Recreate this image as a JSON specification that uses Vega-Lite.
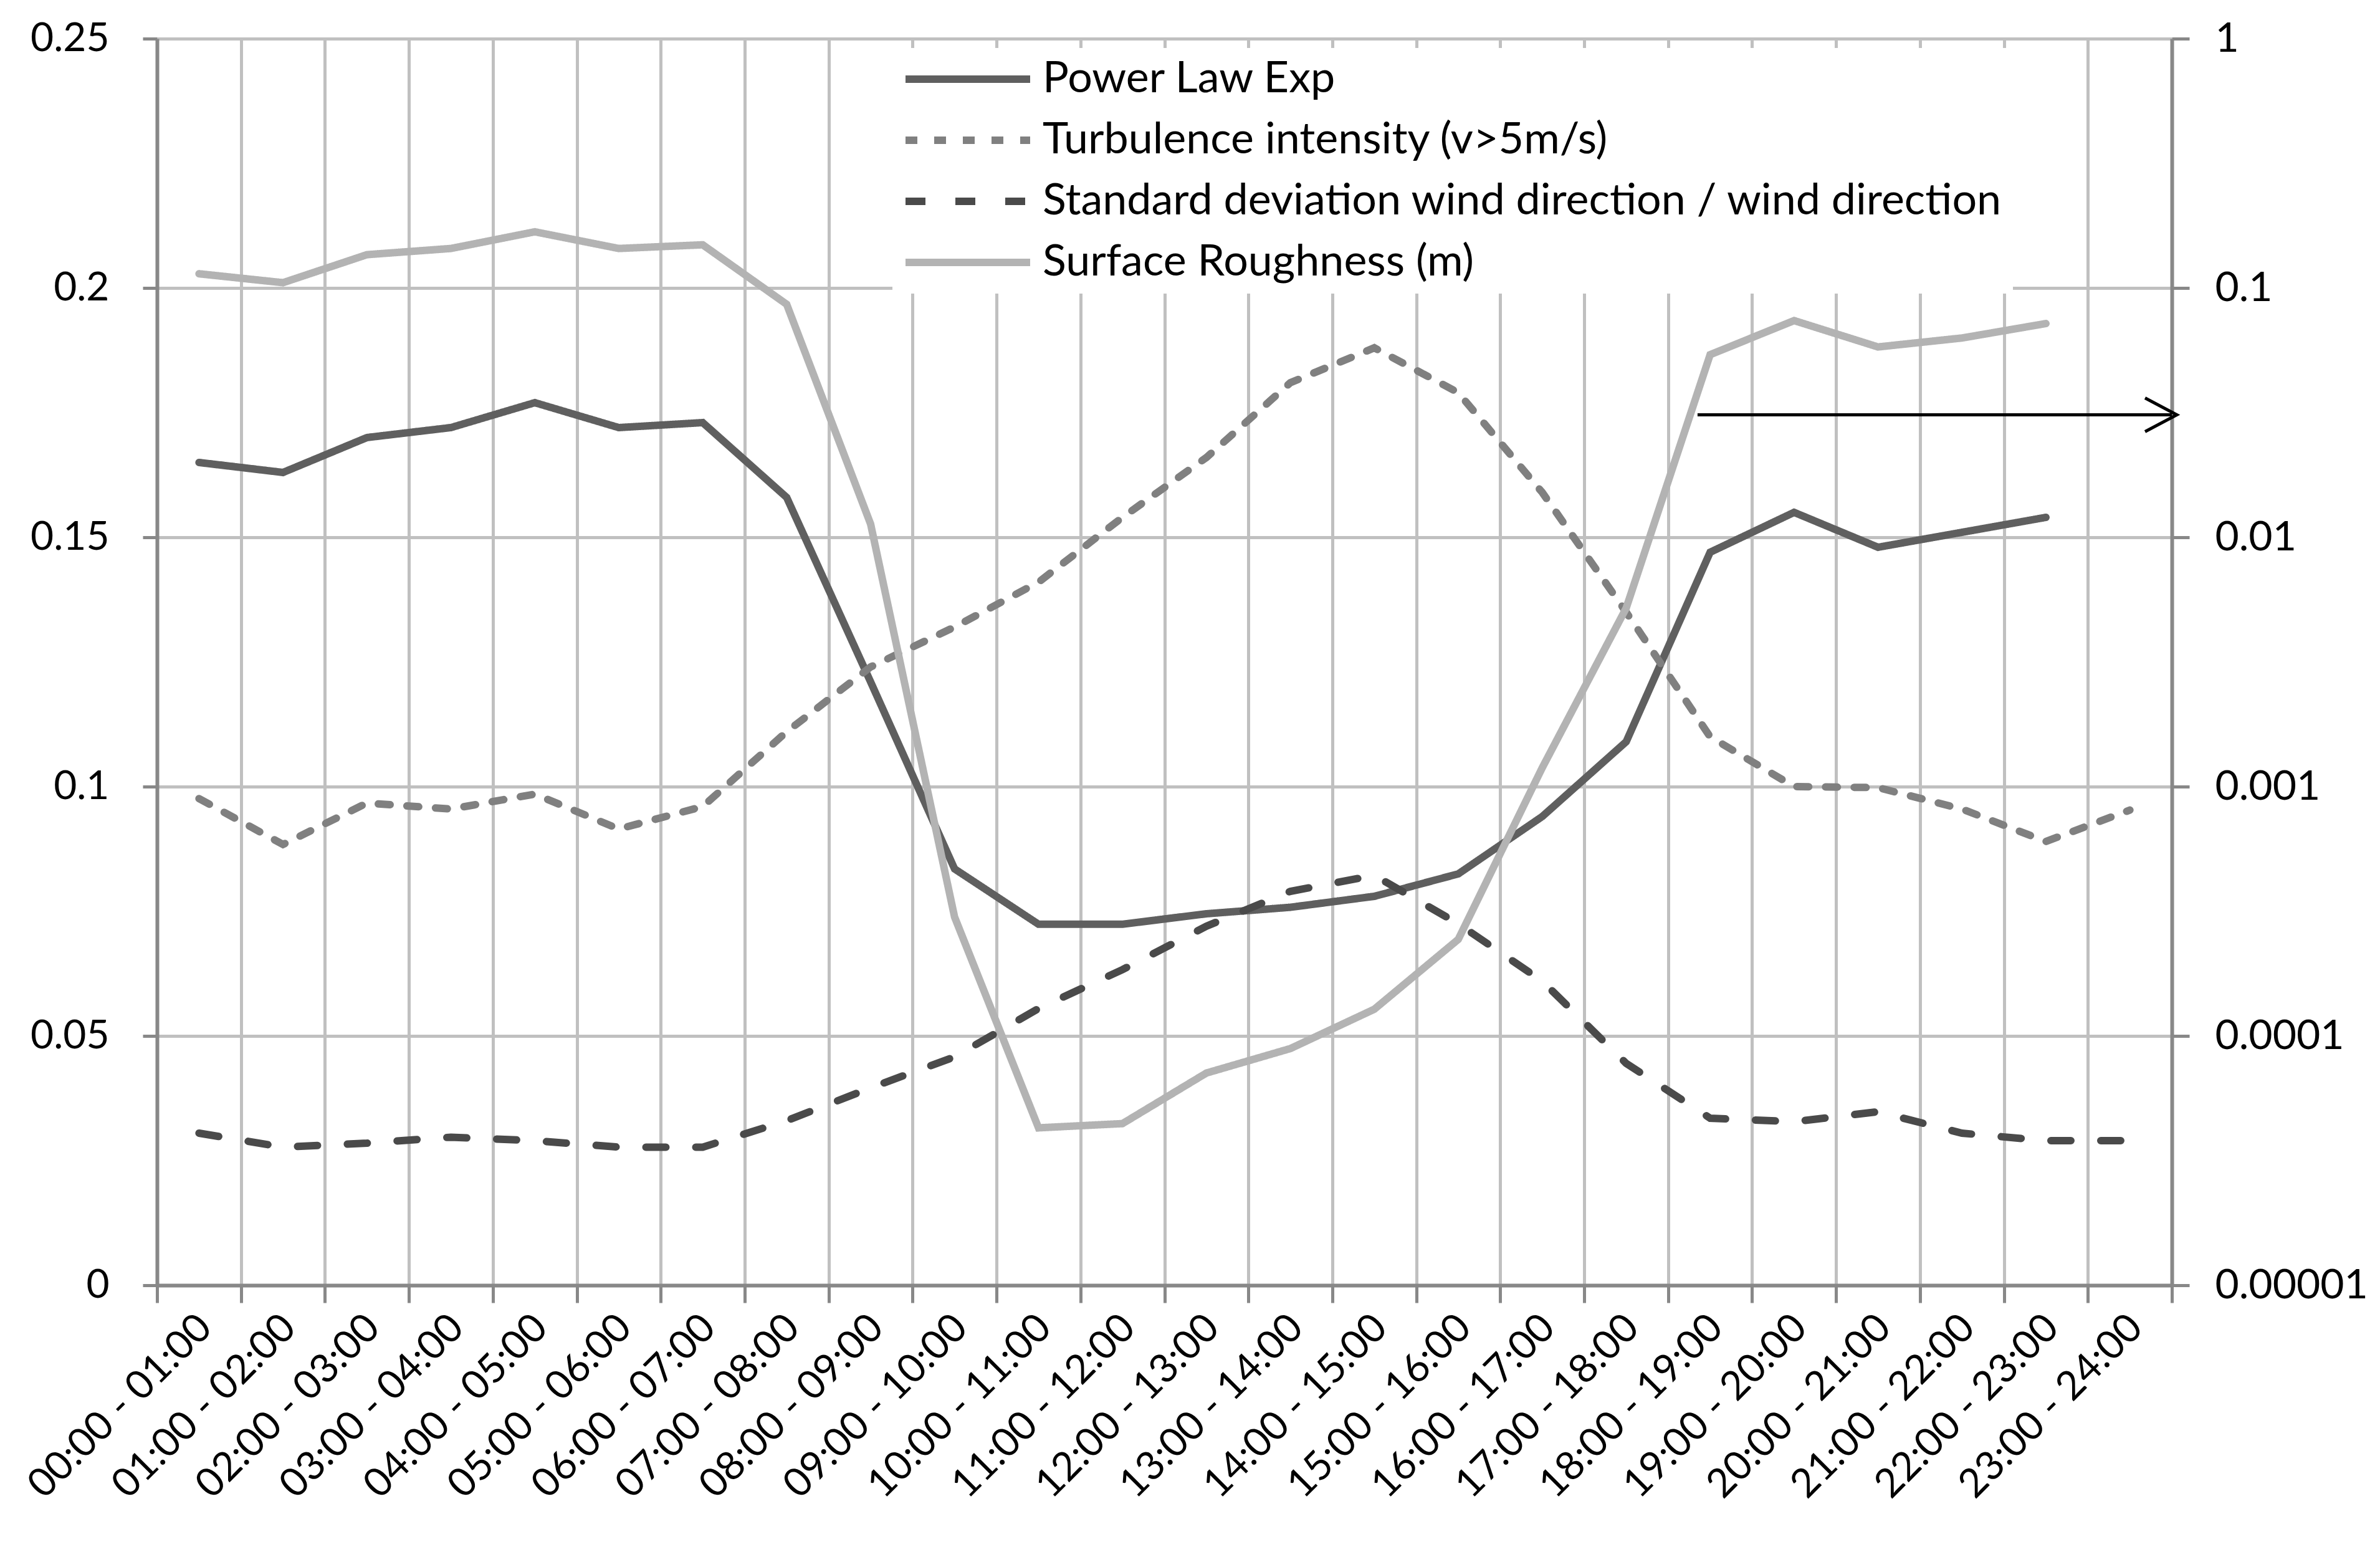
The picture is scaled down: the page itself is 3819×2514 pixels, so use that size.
{
  "$schema": "https://vega.github.io/schema/vega-lite/v6.json",
  "width": 3233,
  "height": 2000,
  "autosize": {"type": "none"},
  "padding": {"left": 252, "top": 62, "right": 334, "bottom": 452},
  "background": "white",
  "datasets": {
    "left": [
      {"hour": "00:00 - 01:00", "series": "Power Law Exp", "value": 0.165},
      {"hour": "01:00 - 02:00", "series": "Power Law Exp", "value": 0.163},
      {"hour": "02:00 - 03:00", "series": "Power Law Exp", "value": 0.170},
      {"hour": "03:00 - 04:00", "series": "Power Law Exp", "value": 0.172},
      {"hour": "04:00 - 05:00", "series": "Power Law Exp", "value": 0.177},
      {"hour": "05:00 - 06:00", "series": "Power Law Exp", "value": 0.172},
      {"hour": "06:00 - 07:00", "series": "Power Law Exp", "value": 0.173},
      {"hour": "07:00 - 08:00", "series": "Power Law Exp", "value": 0.158},
      {"hour": "08:00 - 09:00", "series": "Power Law Exp", "value": 0.121},
      {"hour": "09:00 - 10:00", "series": "Power Law Exp", "value": 0.0835},
      {"hour": "10:00 - 11:00", "series": "Power Law Exp", "value": 0.0724},
      {"hour": "11:00 - 12:00", "series": "Power Law Exp", "value": 0.0724},
      {"hour": "12:00 - 13:00", "series": "Power Law Exp", "value": 0.0745},
      {"hour": "13:00 - 14:00", "series": "Power Law Exp", "value": 0.0758},
      {"hour": "14:00 - 15:00", "series": "Power Law Exp", "value": 0.078},
      {"hour": "15:00 - 16:00", "series": "Power Law Exp", "value": 0.0825},
      {"hour": "16:00 - 17:00", "series": "Power Law Exp", "value": 0.094},
      {"hour": "17:00 - 18:00", "series": "Power Law Exp", "value": 0.109},
      {"hour": "18:00 - 19:00", "series": "Power Law Exp", "value": 0.147},
      {"hour": "19:00 - 20:00", "series": "Power Law Exp", "value": 0.155},
      {"hour": "20:00 - 21:00", "series": "Power Law Exp", "value": 0.148},
      {"hour": "21:00 - 22:00", "series": "Power Law Exp", "value": 0.151},
      {"hour": "22:00 - 23:00", "series": "Power Law Exp", "value": 0.154},
      {"hour": "00:00 - 01:00", "series": "Turbulence intensity (v>5m/s)", "value": 0.0976},
      {"hour": "01:00 - 02:00", "series": "Turbulence intensity (v>5m/s)", "value": 0.0884},
      {"hour": "02:00 - 03:00", "series": "Turbulence intensity (v>5m/s)", "value": 0.0967},
      {"hour": "03:00 - 04:00", "series": "Turbulence intensity (v>5m/s)", "value": 0.0955},
      {"hour": "04:00 - 05:00", "series": "Turbulence intensity (v>5m/s)", "value": 0.0985},
      {"hour": "05:00 - 06:00", "series": "Turbulence intensity (v>5m/s)", "value": 0.0915},
      {"hour": "06:00 - 07:00", "series": "Turbulence intensity (v>5m/s)", "value": 0.096},
      {"hour": "07:00 - 08:00", "series": "Turbulence intensity (v>5m/s)", "value": 0.111},
      {"hour": "08:00 - 09:00", "series": "Turbulence intensity (v>5m/s)", "value": 0.124},
      {"hour": "09:00 - 10:00", "series": "Turbulence intensity (v>5m/s)", "value": 0.132},
      {"hour": "10:00 - 11:00", "series": "Turbulence intensity (v>5m/s)", "value": 0.141},
      {"hour": "11:00 - 12:00", "series": "Turbulence intensity (v>5m/s)", "value": 0.154},
      {"hour": "12:00 - 13:00", "series": "Turbulence intensity (v>5m/s)", "value": 0.166},
      {"hour": "13:00 - 14:00", "series": "Turbulence intensity (v>5m/s)", "value": 0.181},
      {"hour": "14:00 - 15:00", "series": "Turbulence intensity (v>5m/s)", "value": 0.188},
      {"hour": "15:00 - 16:00", "series": "Turbulence intensity (v>5m/s)", "value": 0.179},
      {"hour": "16:00 - 17:00", "series": "Turbulence intensity (v>5m/s)", "value": 0.159},
      {"hour": "17:00 - 18:00", "series": "Turbulence intensity (v>5m/s)", "value": 0.135},
      {"hour": "18:00 - 19:00", "series": "Turbulence intensity (v>5m/s)", "value": 0.110},
      {"hour": "19:00 - 20:00", "series": "Turbulence intensity (v>5m/s)", "value": 0.100},
      {"hour": "20:00 - 21:00", "series": "Turbulence intensity (v>5m/s)", "value": 0.0998},
      {"hour": "21:00 - 22:00", "series": "Turbulence intensity (v>5m/s)", "value": 0.0955},
      {"hour": "22:00 - 23:00", "series": "Turbulence intensity (v>5m/s)", "value": 0.089},
      {"hour": "23:00 - 24:00", "series": "Turbulence intensity (v>5m/s)", "value": 0.0953},
      {"hour": "00:00 - 01:00", "series": "Standard deviation wind direction / wind direction", "value": 0.0305},
      {"hour": "01:00 - 02:00", "series": "Standard deviation wind direction / wind direction", "value": 0.0277},
      {"hour": "02:00 - 03:00", "series": "Standard deviation wind direction / wind direction", "value": 0.0285},
      {"hour": "03:00 - 04:00", "series": "Standard deviation wind direction / wind direction", "value": 0.0297},
      {"hour": "04:00 - 05:00", "series": "Standard deviation wind direction / wind direction", "value": 0.029},
      {"hour": "05:00 - 06:00", "series": "Standard deviation wind direction / wind direction", "value": 0.0277},
      {"hour": "06:00 - 07:00", "series": "Standard deviation wind direction / wind direction", "value": 0.0277},
      {"hour": "07:00 - 08:00", "series": "Standard deviation wind direction / wind direction", "value": 0.033},
      {"hour": "08:00 - 09:00", "series": "Standard deviation wind direction / wind direction", "value": 0.0396},
      {"hour": "09:00 - 10:00", "series": "Standard deviation wind direction / wind direction", "value": 0.0458},
      {"hour": "10:00 - 11:00", "series": "Standard deviation wind direction / wind direction", "value": 0.0555},
      {"hour": "11:00 - 12:00", "series": "Standard deviation wind direction / wind direction", "value": 0.0633},
      {"hour": "12:00 - 13:00", "series": "Standard deviation wind direction / wind direction", "value": 0.072},
      {"hour": "13:00 - 14:00", "series": "Standard deviation wind direction / wind direction", "value": 0.079},
      {"hour": "14:00 - 15:00", "series": "Standard deviation wind direction / wind direction", "value": 0.0822},
      {"hour": "15:00 - 16:00", "series": "Standard deviation wind direction / wind direction", "value": 0.0725},
      {"hour": "16:00 - 17:00", "series": "Standard deviation wind direction / wind direction", "value": 0.061},
      {"hour": "17:00 - 18:00", "series": "Standard deviation wind direction / wind direction", "value": 0.0445},
      {"hour": "18:00 - 19:00", "series": "Standard deviation wind direction / wind direction", "value": 0.0335},
      {"hour": "19:00 - 20:00", "series": "Standard deviation wind direction / wind direction", "value": 0.0328},
      {"hour": "20:00 - 21:00", "series": "Standard deviation wind direction / wind direction", "value": 0.0348},
      {"hour": "21:00 - 22:00", "series": "Standard deviation wind direction / wind direction", "value": 0.0305},
      {"hour": "22:00 - 23:00", "series": "Standard deviation wind direction / wind direction", "value": 0.029},
      {"hour": "23:00 - 24:00", "series": "Standard deviation wind direction / wind direction", "value": 0.029}
    ],
    "right": [
      {"hour": "00:00 - 01:00", "series": "Surface Roughness (m)", "value": 0.114},
      {"hour": "01:00 - 02:00", "series": "Surface Roughness (m)", "value": 0.105},
      {"hour": "02:00 - 03:00", "series": "Surface Roughness (m)", "value": 0.136},
      {"hour": "03:00 - 04:00", "series": "Surface Roughness (m)", "value": 0.144},
      {"hour": "04:00 - 05:00", "series": "Surface Roughness (m)", "value": 0.168},
      {"hour": "05:00 - 06:00", "series": "Surface Roughness (m)", "value": 0.144},
      {"hour": "06:00 - 07:00", "series": "Surface Roughness (m)", "value": 0.149},
      {"hour": "07:00 - 08:00", "series": "Surface Roughness (m)", "value": 0.086},
      {"hour": "08:00 - 09:00", "series": "Surface Roughness (m)", "value": 0.0113},
      {"hour": "09:00 - 10:00", "series": "Surface Roughness (m)", "value": 0.0003},
      {"hour": "10:00 - 11:00", "series": "Surface Roughness (m)", "value": 0.0000428},
      {"hour": "11:00 - 12:00", "series": "Surface Roughness (m)", "value": 0.0000445},
      {"hour": "12:00 - 13:00", "series": "Surface Roughness (m)", "value": 0.000071},
      {"hour": "13:00 - 14:00", "series": "Surface Roughness (m)", "value": 0.000089},
      {"hour": "14:00 - 15:00", "series": "Surface Roughness (m)", "value": 0.000128},
      {"hour": "15:00 - 16:00", "series": "Surface Roughness (m)", "value": 0.000244},
      {"hour": "16:00 - 17:00", "series": "Surface Roughness (m)", "value": 0.00119},
      {"hour": "17:00 - 18:00", "series": "Surface Roughness (m)", "value": 0.0052},
      {"hour": "18:00 - 19:00", "series": "Surface Roughness (m)", "value": 0.054},
      {"hour": "19:00 - 20:00", "series": "Surface Roughness (m)", "value": 0.074},
      {"hour": "20:00 - 21:00", "series": "Surface Roughness (m)", "value": 0.058},
      {"hour": "21:00 - 22:00", "series": "Surface Roughness (m)", "value": 0.063},
      {"hour": "22:00 - 23:00", "series": "Surface Roughness (m)", "value": 0.072}
    ],
    "arrow": [
      {"from": "18:00 - 19:00", "to": "23:00 - 24:00", "value": 0.031}
    ]
  },
  "layer": [
    {
      "data": {"name": "left"},
      "mark": {"type": "line", "strokeWidth": 12, "strokeCap": "round"},
      "encoding": {
        "x": {
          "field": "hour", "type": "nominal", "sort": null,
          "scale": {"type": "band", "paddingInner": 0, "paddingOuter": 0,
            "domain": ["00:00 - 01:00","01:00 - 02:00","02:00 - 03:00","03:00 - 04:00","04:00 - 05:00","05:00 - 06:00","06:00 - 07:00","07:00 - 08:00","08:00 - 09:00","09:00 - 10:00","10:00 - 11:00","11:00 - 12:00","12:00 - 13:00","13:00 - 14:00","14:00 - 15:00","15:00 - 16:00","16:00 - 17:00","17:00 - 18:00","18:00 - 19:00","19:00 - 20:00","20:00 - 21:00","21:00 - 22:00","22:00 - 23:00","23:00 - 24:00"]}
        },
        "y": {
          "field": "value", "type": "quantitative",
          "scale": {"domain": [0, 0.25], "nice": false, "zero": true},
          "axis": {"orient": "left", "title": null, "values": [0, 0.05, 0.1, 0.15, 0.2, 0.25], "format": ".2~f", "grid": true, "tickSize": 23, "labelPadding": 54}
        },
        "color": {
          "field": "series", "type": "nominal",
          "scale": {"domain": ["Power Law Exp", "Turbulence intensity (v>5m/s)", "Standard deviation wind direction / wind direction", "Surface Roughness (m)"],
                    "range": ["#5f5f5f", "#808080", "#4a4a4a", "#b3b3b3"]},
          "legend": {"title": null, "orient": "none", "legendX": 1180, "legendY": 15}
        },
        "strokeDash": {
          "field": "series", "type": "nominal",
          "scale": {"domain": ["Power Law Exp", "Turbulence intensity (v>5m/s)", "Standard deviation wind direction / wind direction", "Surface Roughness (m)"],
                    "range": [[1, 0], [19, 27], [32, 48], [1, 0]]},
          "legend": {"title": null, "orient": "none", "legendX": 1180, "legendY": 15}
        }
      }
    },
    {
      "layer": [
        {
          "data": {"name": "right"},
          "mark": {"type": "line", "strokeWidth": 12, "strokeCap": "round"},
          "encoding": {
            "x": {"field": "hour", "type": "nominal", "sort": null},
            "y": {
              "field": "value", "type": "quantitative",
              "scale": {"type": "log", "domain": [0.00001, 1], "nice": false},
              "axis": {"orient": "right", "title": null, "values": [0.00001, 0.0001, 0.001, 0.01, 0.1, 1], "format": ".5~f", "grid": false, "tickSize": 28, "labelPadding": 41, "labelFontSize": 66}
            },
            "color": {"field": "series", "type": "nominal"},
            "strokeDash": {"field": "series", "type": "nominal"}
          }
        },
        {
          "data": {"name": "arrow"},
          "mark": {"type": "rule", "color": "black", "strokeWidth": 5},
          "encoding": {
            "x": {"field": "from", "type": "nominal", "bandPosition": 0.35},
            "x2": {"field": "to", "bandPosition": 1},
            "y": {"field": "value", "type": "quantitative"}
          }
        },
        {
          "data": {"name": "arrow"},
          "mark": {"type": "point", "shape": "M -1 -0.53 L 0 0 L -1 0.53", "filled": false, "color": "black", "strokeWidth": 5, "size": 10404, "opacity": 1, "xOffset": 8},
          "encoding": {
            "x": {"field": "to", "type": "nominal", "bandPosition": 1},
            "y": {"field": "value", "type": "quantitative"}
          }
        }
      ]
    }
  ],
  "resolve": {"scale": {"y": "independent"}},
  "config": {
    "view": {"stroke": null},
    "font": "Lato",
    "axis": {
      "labelFont": "Lato", "labelFontSize": 64, "labelColor": "#000000", "labelLimit": 2000,
      "domainColor": "#888888", "domainWidth": 6,
      "tickColor": "#888888", "tickWidth": 5,
      "gridColor": "#c0c0c0", "gridWidth": 5
    },
    "axisX": {
      "title": null, "tickBand": "extent", "grid": true, "tickSize": 28,
      "labelAngle": -45, "labelAlign": "right", "labelBaseline": "middle",
      "labelPadding": 30, "labelOffset": 10, "labelOverlap": false, "labelBound": false, "labelFlush": false
    },
    "legend": {
      "fillColor": "white", "padding": 15,
      "symbolType": "stroke", "symbolSize": 40000, "symbolStrokeWidth": 12,
      "clipHeight": 70, "rowPadding": 28,
      "labelFont": "Lato", "labelFontSize": 70, "labelColor": "#000000",
      "labelLimit": 3000, "labelOffset": 14
    }
  }
}
